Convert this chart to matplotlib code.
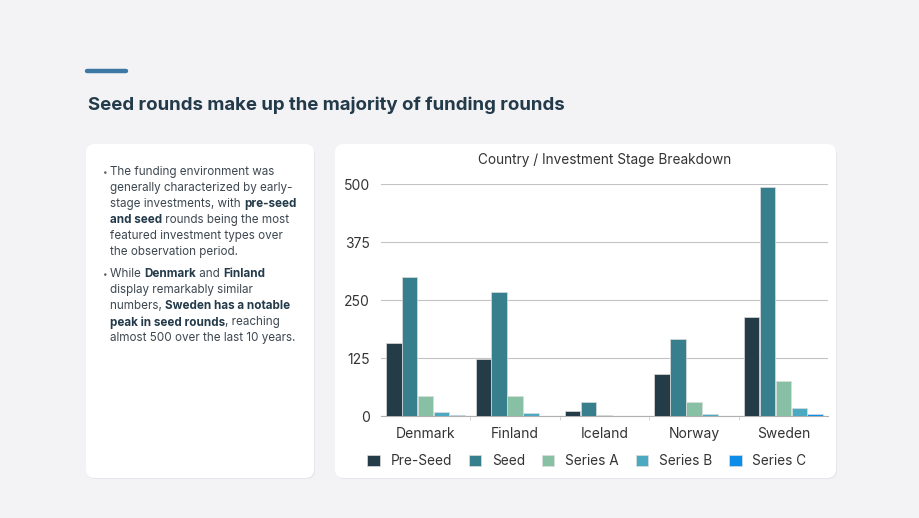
import numpy as np
import matplotlib
matplotlib.use("Agg")
from matplotlib import pyplot as plt
from matplotlib.patches import FancyBboxPatch, Rectangle
from matplotlib.lines import Line2D

plt.rcParams['font.family'] = ['Inter', 'DejaVu Sans']

#%% data
countries = ['Denmark', 'Finland', 'Iceland', 'Norway', 'Sweden']
stages = ['Pre-Seed', 'Seed', 'Series A', 'Series B', 'Series C']
pre_seed = [158, 123, 12, 92, 213]
seed = [300, 268, 30, 167, 493]
series_a = [43, 43, 3, 31, 77]
series_b = [9, 8, 0, 5, 18]
series_c = [2, 0, 0, 0, 5]
yticks = [0, 125, 250, 375, 500]

colors = ['#243b48', '#377f8d', '#88c0a6', '#4baac2', '#0b8de8']
title = 'Seed rounds make up the majority of funding rounds'
chart_title = 'Country / Investment Stage Breakdown'

# bullet text, runs of (text, bold)
bullet1 = [
    [('The funding environment was', False)],
    [('generally characterized by early-', False)],
    [('stage investments, with ', False), ('pre-seed', True)],
    [('and seed', True), (' rounds being the most', False)],
    [('featured investment types over', False)],
    [('the observation period.', False)],
]
bullet2 = [
    [('While ', False), ('Denmark', True), (' and ', False), ('Finland', True)],
    [('display remarkably similar', False)],
    [('numbers, ', False), ('Sweden has a notable', True)],
    [('peak in seed rounds', True), (', reaching', False)],
    [('almost 500 over the last 10 years.', False)],
]

#%% figure + pixel background axes
W, H = 920, 518
fig = plt.figure(figsize=(W / 100, H / 100), dpi=100)
fig.patch.set_facecolor('#f3f3f5')
bg = fig.add_axes([0, 0, 1, 1])
bg.set_xlim(0, W)
bg.set_ylim(H, 0)
bg.axis('off')

# accent line + heading
bg.add_line(Line2D([87, 126], [71, 71], color='#3b78a3', lw=3.2, solid_capstyle='round'))
bg.text(88, 105.5, title, fontsize=13.45, fontweight='bold', color='#233a4a', va='center', ha='left')

# cards
for x0, x1 in [(86, 314), (335, 836)]:
    bg.add_patch(FancyBboxPatch((x0 + 1, 146), x1 - x0, 333, boxstyle='round,pad=0,rounding_size=9',
                                fc='#e6e6ea', ec='none', zorder=1))
    bg.add_patch(FancyBboxPatch((x0, 144), x1 - x0, 334, boxstyle='round,pad=0,rounding_size=9',
                                fc='white', ec='none', zorder=2))

fig.canvas.draw()
renderer = fig.canvas.get_renderer()


def draw_runs(x, y, runs):
    for txt, bold in runs:
        t = bg.text(x, y, txt, fontsize=8.4, va='center', ha='left', zorder=3,
                    fontweight='bold' if bold else 'normal',
                    color='#233a4a' if bold else '#3d4750')
        x += t.get_window_extent(renderer).width


for y0, lines in [(172, bullet1), (274, bullet2)]:
    bg.text(103, y0, '•', fontsize=6, va='center', ha='left', color='#5a6570', zorder=3)
    for i, runs in enumerate(lines):
        draw_runs(110, y0 + i * 16.1, runs)

#%% bar chart
ax = fig.add_axes([381 / W, (H - 416.3) / H, 447 / W, (416.3 - 184) / H])
ax.set_facecolor('none')
x = np.arange(len(countries))
series = [pre_seed, seed, series_a, series_b, series_c]
bw = 0.172
step = 0.178
for i, (vals, c) in enumerate(zip(series, colors)):
    ax.bar(x + (i - 2) * step, vals, width=bw, color=c, label=stages[i], zorder=3,
           edgecolor='#dcdcdc', linewidth=0.5)

ax.set_xlim(-0.5, 4.5)
ax.set_ylim(0, 500)
ax.set_yticks(yticks)
ax.set_yticklabels([str(v) for v in yticks])
ax.grid(axis='y', color='#c4c4c4', lw=0.8, zorder=0)
for s in ['left', 'top', 'right']:
    ax.spines[s].set_visible(False)
ax.spines['bottom'].set_color('#b0b0b0')
ax.tick_params(axis='y', length=0, pad=8, labelsize=10, labelcolor='#333333')
ax.set_xticks(x)
ax.set_xticklabels(countries)
ax.tick_params(axis='x', which='major', length=0, pad=8, labelsize=10, labelcolor='#333333')
ax.set_xticks(np.arange(0.5, 4, 1), minor=True)
ax.tick_params(axis='x', which='minor', length=3, color='#d0d0d0')

fig.text(605 / W, 1 - 160 / H, chart_title, ha='center', va='center', fontsize=9.8, color='#333333')

handles = [Rectangle((0, 0), 1, 1, fc=c, ec='#dddddd', lw=0.5) for c in colors]
fig.legend(handles, stages, loc='center', bbox_to_anchor=(587 / W, 1 - 461 / H), ncol=5,
           frameon=False, fontsize=9.8, handlelength=0.9, handleheight=0.9,
           columnspacing=1.25, handletextpad=0.8, labelcolor='#333333')

fig.savefig('out.png', dpi=100, facecolor=fig.get_facecolor())
